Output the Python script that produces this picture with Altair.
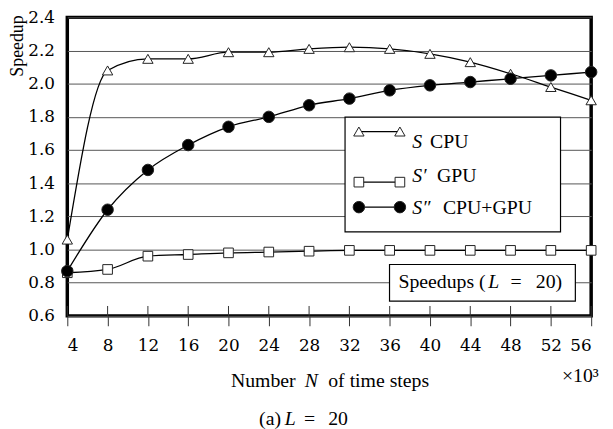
import altair as alt
import pandas as pd

# ---- data ----
N_STEPS = [4, 8, 12, 16, 20, 24, 28, 32, 36, 40, 44, 48, 52, 56]          # x 10^3
S_CPU = [1.06, 2.08, 2.15, 2.15, 2.19, 2.19, 2.21, 2.22, 2.21, 2.18, 2.13, 2.06, 1.98, 1.90]
S_GPU = [0.86, 0.88, 0.96, 0.97, 0.98, 0.985, 0.99, 0.995, 0.995, 0.995, 0.995, 0.995, 0.995, 0.995]
S_BOTH = [0.87, 1.24, 1.48, 1.63, 1.74, 1.80, 1.87, 1.91, 1.96, 1.99, 2.01, 2.03, 2.05, 2.07]
Y_TICKS = [0.6, 0.8, 1.0, 1.2, 1.4, 1.6, 1.8, 2.0, 2.2, 2.4]
LEGEND_SYM = ["S", "S\u2032", "S\u2033"]
LEGEND_TXT = ["CPU", "GPU", "CPU+GPU"]
Y_TITLE = "Speedup"
X_TITLE = ["Number", "N", "of time steps"]
BOX_TXT = ["Speedups (", "L", "=", "20)"]
CAPTION = ["(a)", "L", "=", "20"]
X_UNIT = "\u00d710\u00b3"

W, H = 530, 302
SERIF = "Liberation Serif"
NUMF = "DejaVu Serif"

df = pd.DataFrame({"N": N_STEPS, "cpu": S_CPU, "gpu": S_GPU, "both": S_BOTH})
one = pd.DataFrame({"k": [0]})

xs = alt.Scale(domain=[4, 56], nice=False, zero=False)
ys = alt.Scale(domain=[0.6, 2.4], nice=False, zero=False)

X_AX = alt.Axis(values=N_STEPS, title=None, grid=False, domain=False, ticks=True,
                tickSize=10, tickColor="#333", tickWidth=1, labelPadding=12,
                labelFont=NUMF, labelFontSize=17, labelColor="black")
Y_AX = alt.Axis(values=Y_TICKS, format=".1f", title=None, grid=True, gridColor="#555",
                gridWidth=1, domain=False, ticks=False, tickSize=0, labelPadding=13,
                labelFont=NUMF, labelFontSize=17, labelColor="black")

base = alt.Chart(df)


def XE(field="N:Q"):
    return alt.X(field, scale=xs, axis=X_AX)


def YE(field):
    return alt.Y(field, scale=ys, axis=Y_AX)


inner_ticks = alt.Chart(pd.DataFrame({"N": N_STEPS})).mark_rule(
    color="#333", strokeWidth=1).encode(
    x=XE(), y=alt.value(H), y2=alt.value(H - 10))


def series(col, shape, fill, size):
    ln = base.mark_line(interpolate="monotone", color="black", strokeWidth=1.3).encode(
        x=XE(), y=YE(f"{col}:Q"))
    pt = base.mark_point(shape=shape, filled=True, fill=fill, stroke="#222",
                         strokeWidth=1, size=size, opacity=1).encode(
        x=XE(), y=YE(f"{col}:Q"))
    return [ln, pt]


def txt(s, x, y, italic=False, align="left", size=20, angle=0, font=SERIF):
    return alt.Chart(one).mark_text(
        text=s, font=font, fontSize=size, fontStyle="italic" if italic else "normal",
        align=align, baseline="middle", color="black", angle=angle).encode(
        x=alt.value(x), y=alt.value(y))


def box(x1, x2, y1, y2):
    return alt.Chart(one).mark_rect(fill="white", stroke="black", strokeWidth=1.2).encode(
        x=alt.value(x1), x2=alt.value(x2), y=alt.value(y1), y2=alt.value(y2))


def sym(shape, fill, size, x, y):
    return alt.Chart(one).mark_point(shape=shape, filled=True, fill=fill, stroke="#222",
                                     strokeWidth=1, size=size, opacity=1).encode(
        x=alt.value(x), y=alt.value(y))


def hline(x1, x2, y):
    return alt.Chart(one).mark_rule(color="black", strokeWidth=1.3).encode(
        x=alt.value(x1), x2=alt.value(x2), y=alt.value(y))


layers = [inner_ticks]
layers += series("cpu", "triangle-up", "white", 110)
layers += series("gpu", "square", "white", 95)
layers += series("both", "circle", "black", 135)

# legend box
layers.append(box(281, 499, 101, 217))
leg = [("triangle-up", "white", 110, 115.5, 126.5, 367),
       ("square", "white", 95, 166.7, 160.5, 374),
       ("circle", "black", 135, 192, 193, 380)]
for i, (shp, fl, sz, sy, ty, tx) in enumerate(leg):
    layers.append(hline(295, 336.5, sy))
    layers.append(sym(shp, fl, sz, 295, sy))
    layers.append(sym(shp, fl, sz, 336.5, sy))
    layers.append(txt(LEGEND_SYM[i], 349, ty, italic=True))
    layers.append(txt(LEGEND_TXT[i], tx, ty))

# speedups annotation box
layers.append(box(326, 514, 250, 287))
layers.append(txt(BOX_TXT[0], 335, 268))
layers.append(txt(BOX_TXT[1], 426, 268, italic=True))
layers.append(txt(BOX_TXT[2], 454, 268, align="center"))
layers.append(txt(BOX_TXT[3], 474, 268))

# axis titles / caption
layers.append(txt(Y_TITLE, -50, -2, align="right", size=18, angle=270))
layers.append(txt(X_TITLE[0], 231, 368, align="right"))
layers.append(txt(X_TITLE[1], 247, 368, italic=True, align="center"))
layers.append(txt(X_TITLE[2], 264, 368))
layers.append(txt(X_UNIT, 519, 363, align="center"))
layers.append(txt(CAPTION[0], 194, 406))
layers.append(txt(CAPTION[1], 220, 406, italic=True))
layers.append(txt(CAPTION[2], 245, 406, align="center"))
layers.append(txt(CAPTION[3], 264, 406))

chart = alt.layer(*layers).properties(
    width=W, height=H,
    autosize=alt.AutoSizeParams(type="none"),
    padding={"left": 60, "top": 7, "right": 14, "bottom": 114},
    background="white",
).configure_view(stroke="black", strokeWidth=3.5)

chart.save("out.html", embed_options={"renderer": "svg", "actions": False})
